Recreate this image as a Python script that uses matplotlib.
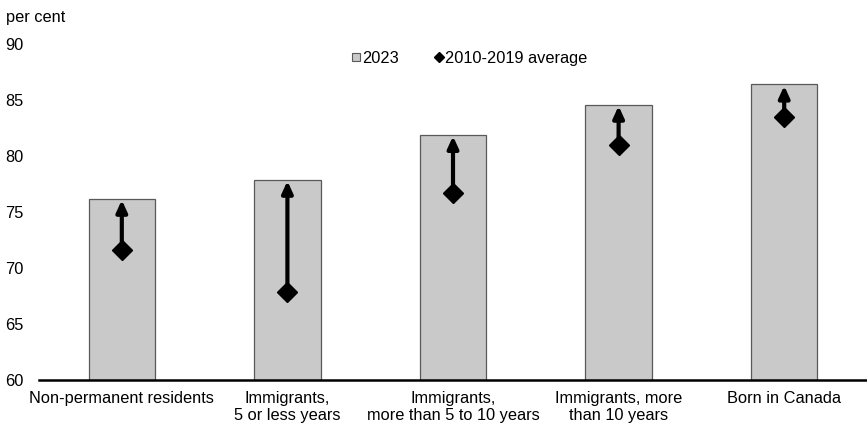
import matplotlib
matplotlib.use("Agg")
import matplotlib.pyplot as plt
from matplotlib.lines import Line2D

plt.rcParams['font.family'] = ['Liberation Sans', 'DejaVu Sans']

categories = ["Non-permanent residents", "Immigrants,\n5 or less years",
              "Immigrants,\nmore than 5 to 10 years", "Immigrants, more\nthan 10 years",
              "Born in Canada"]
values_2023 = [76.2, 77.9, 81.9, 84.6, 86.4]
avg_2010_2019 = [71.6, 67.9, 76.7, 81.0, 83.5]
yticks = [60, 65, 70, 75, 80, 85, 90]

FS = 11.8

fig = plt.figure(figsize=(8.67, 4.28), dpi=100)
ax = fig.add_axes([0.045, 0.112, 0.955, 0.785])

x = list(range(len(categories)))
ax.bar(x, [v - 60 for v in values_2023], bottom=60, width=0.4,
       color='#c9c9c9', edgecolor='#595959', linewidth=0.9, zorder=2)

for xi, a, v in zip(x, avg_2010_2019, values_2023):
    ax.annotate('', xy=(xi, v), xytext=(xi, a),
                arrowprops=dict(arrowstyle='-|>,head_length=0.7,head_width=0.32',
                                color='black', lw=3, shrinkA=0, shrinkB=1,
                                mutation_scale=10),
                zorder=3)
ax.plot(x, avg_2010_2019, linestyle='none', marker='D', markersize=10.5,
        color='black', zorder=4)

ax.set_xlim(-0.5, 4.5)
ax.set_ylim(60, 90)
ax.set_yticks(yticks)
ax.set_xticks(x)
ax.set_xticklabels(categories, fontsize=FS, linespacing=1.12)
ax.tick_params(axis='both', length=0, labelsize=FS)
ax.tick_params(axis='y', pad=11)
ax.tick_params(axis='x', pad=8)
for s in ['top', 'right', 'left']:
    ax.spines[s].set_visible(False)
ax.spines['bottom'].set_linewidth(1.8)
ax.spines['bottom'].set_zorder(5)

handles = [Line2D([], [], linestyle='none', marker='s', markersize=6,
                  markerfacecolor='#c9c9c9', markeredgecolor='#595959', markeredgewidth=0.8),
           Line2D([], [], linestyle='none', marker='D', markersize=5.5, color='black')]
ax.legend(handles, ['2023', '2010-2019 average'], loc='center',
          bbox_to_anchor=(0.52, 0.958), ncol=2, frameon=False, fontsize=FS,
          handlelength=0.5, handletextpad=0.1, columnspacing=2.2)

fig.text(0.007, 0.96, 'per cent', fontsize=FS, va='center', ha='left')

fig.savefig('out.png', dpi=100)
